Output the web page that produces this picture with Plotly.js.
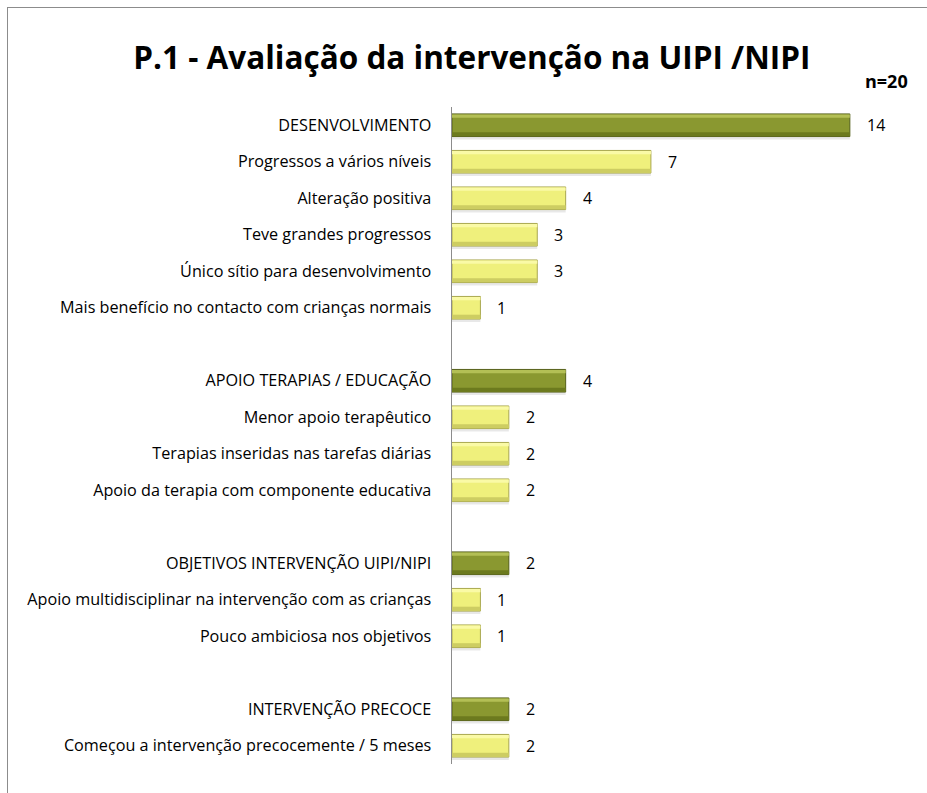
<!DOCTYPE html>
<html>
<head>
<meta charset="utf-8">
<script src="https://cdn.plot.ly/plotly-3.0.1.min.js"></script>
<style>
html,body{margin:0;padding:0;background:#fff;}
#chart{width:927px;height:793px;position:absolute;left:0;top:0;}
#frame{position:absolute;left:7px;top:7px;width:940px;height:820px;border-left:1.5px solid #8c8c8c;border-top:1.5px solid #8c8c8c;pointer-events:none;}
</style>
</head>
<body>
<div id="chart"></div>
<div id="frame"></div>
<script>
// Categories (top to bottom); blank entries are spacer rows
const categories = [
  "DESENVOLVIMENTO",
  "Progressos a vários níveis",
  "Alteração positiva",
  "Teve grandes progressos",
  "Único sítio para desenvolvimento",
  "Mais benefício no contacto com crianças normais",
  " ",
  "APOIO TERAPIAS / EDUCAÇÃO",
  "Menor apoio terapêutico",
  "Terapias inseridas nas tarefas diárias",
  "Apoio da terapia com componente educativa",
  "  ",
  "OBJETIVOS INTERVENÇÃO UIPI/NIPI",
  "Apoio multidisciplinar na intervenção com as crianças",
  "Pouco ambiciosa nos objetivos",
  "   ",
  "INTERVENÇÃO PRECOCE",
  "Começou a intervenção precocemente / 5 meses"
];
const values = [14, 7, 4, 3, 3, 1, null, 4, 2, 2, 2, null, 2, 1, 1, null, 2, 2];
const isGroup = [true, false, false, false, false, false, false, true, false, false, false, false, true, false, false, false, true, false];
const titleText = "P.1 - Avaliação da intervenção na UIPI /NIPI";
const nText = "n=20";

const FONT = "Open Sans, Liberation Sans, Arial, sans-serif";
const dark = {fill: "#8a9830", hi: "#b3bf55", lo: "#6c7a1e", edge: "#55601a"};
const light = {fill: "#eff07c", hi: "#fafaa6", lo: "#cdcd62", edge: "#a9a850"};

const groupX = [], groupY = [], itemX = [], itemY = [];
categories.forEach((c, i) => {
  if (values[i] == null) return;
  if (isGroup[i]) { groupX.push(values[i]); groupY.push(c); }
  else { itemX.push(values[i]); itemY.push(c); }
});

function barSet(xs, ys, col) {
  const common = {type: "bar", orientation: "h", x: xs, y: ys, showlegend: false, hoverinfo: "skip"};
  return [
    Object.assign({}, common, {width: 0.62, offset: -0.39, marker: {color: "rgba(0,0,0,0.09)", line: {width: 0}}}),
    Object.assign({}, common, {width: 0.62, marker: {color: col.fill, line: {color: col.edge, width: 1}}, hoverinfo: "x+y"}),
    Object.assign({}, common, {width: 0.09, offset: 0.205, marker: {color: col.hi, line: {width: 0}}}),
    Object.assign({}, common, {width: 0.11, offset: -0.3, marker: {color: col.lo, line: {width: 0}}})
  ];
}

const traces = [].concat(barSet(groupX, groupY, dark), barSet(itemX, itemY, light));

const annotations = [];
categories.forEach((c, i) => {
  if (values[i] == null) return;
  annotations.push({x: values[i], y: c, xref: "x", yref: "y", text: String(values[i]),
    showarrow: false, xanchor: "left", xshift: 15,
    font: {family: FONT, size: 16, color: "#000"}});
});
annotations.push({xref: "paper", yref: "paper", x: 1.02, y: 1.018, xanchor: "right", yanchor: "bottom",
  text: "<b>" + nText + "</b>", showarrow: false,
  font: {family: FONT, size: 18, color: "#000"}});

const layout = {
  width: 927, height: 793,
  paper_bgcolor: "rgba(0,0,0,0)", plot_bgcolor: "rgba(0,0,0,0)",
  margin: {l: 452, r: 26, t: 107, b: 29},
  barmode: "overlay",
  title: {text: "<b>" + titleText + "</b>", x: 0.509, xanchor: "center", y: 0.927, yanchor: "middle",
    font: {family: FONT, size: 31.5, color: "#000"}},
  xaxis: {range: [0, 15.8], visible: false, fixedrange: true},
  yaxis: {type: "category", categoryorder: "array", categoryarray: categories.slice().reverse(),
    autorange: false, range: [-0.5, categories.length - 0.5],
    showline: true, linecolor: "#8c8c8c", linewidth: 1.5, showgrid: false, zeroline: false,
    ticks: "", ticklabelstandoff: 16,
    tickfont: {family: FONT, size: 16.2, color: "#000"}},
  annotations: annotations,
  showlegend: false
};

Plotly.newPlot("chart", traces, layout, {displayModeBar: false, staticPlot: true});
</script>
</body>
</html>
